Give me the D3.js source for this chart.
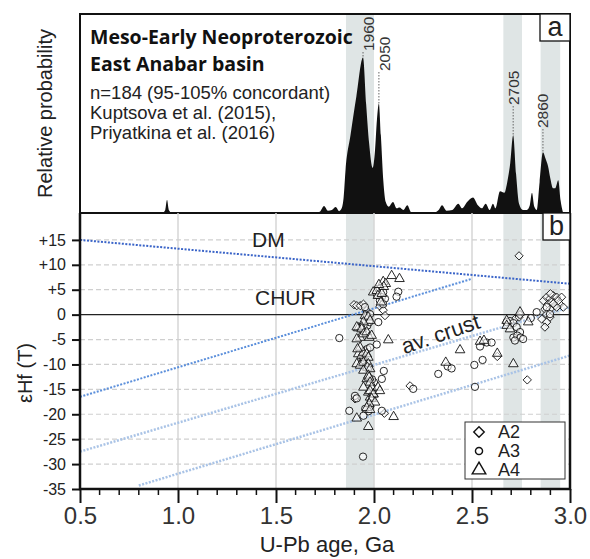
<!DOCTYPE html>
<html>
<head>
<meta charset="utf-8">
<script src="https://cdn.jsdelivr.net/npm/d3@7"></script>
<style>
  body { margin: 0; background: #fff; }
  svg { font-family: "Liberation Sans", Arial, sans-serif; }
</style>
</head>
<body>
<svg id="chart" width="590" height="559"></svg>
<script>
// relative probability curve, [age Ga, relative height]
const density = [
  [0.5, 0], [0.92, 0], [0.935, 0.02], [0.944, 0.085], [0.953, 0.02], [0.97, 0],
  [1.7, 0], [1.725, 0.01], [1.745, 0.045], [1.765, 0.015], [1.785, 0.02],
  [1.805, 0.038], [1.822, 0.012], [1.835, 0.03], [1.845, 0.1], [1.855, 0.28],
  [1.88, 0.5], [1.91, 0.75], [1.944, 1.0], [1.96, 0.7], [1.975, 0.45],
  [1.993, 0.29], [2.005, 0.4], [2.015, 0.6], [2.025, 0.705], [2.035, 0.5],
  [2.048, 0.2], [2.06, 0.07], [2.075, 0.04], [2.097, 0.07], [2.115, 0.03],
  [2.13, 0.035], [2.15, 0.02], [2.17, 0.05], [2.19, 0.005], [2.3, 0],
  [2.33, 0.02], [2.347, 0.05], [2.37, 0.015], [2.4, 0.02], [2.43, 0.06],
  [2.45, 0.03], [2.475, 0.07], [2.505, 0.1], [2.53, 0.05], [2.55, 0.03],
  [2.57, 0.06], [2.59, 0.02], [2.607, 0.06], [2.62, 0.03], [2.643, 0.14],
  [2.665, 0.13], [2.68, 0.2], [2.695, 0.32], [2.71, 0.5], [2.725, 0.25],
  [2.74, 0.06], [2.76, 0.02], [2.78, 0.02], [2.795, 0.05], [2.806, 0.13],
  [2.818, 0.04], [2.83, 0.02], [2.845, 0.2], [2.862, 0.39], [2.875, 0.35],
  [2.888, 0.3], [2.9, 0.22], [2.913, 0.16], [2.925, 0.16], [2.94, 0.21],
  [2.952, 0.08], [2.965, 0],
];

const peaks = [
  { age: 1.944, rel: 1.0, label: "1960" },
  { age: 2.025, rel: 0.705, label: "2050" },
  { age: 2.71, rel: 0.5, label: "2705" },
  { age: 2.862, rel: 0.39, label: "2860" },
];
const peakLabelTop = ["18", "38", "72", "95"];

const bands = [[1.857, 2.0], [2.66, 2.755], [2.85, 2.95]];

// εHf(T) data, [age Ga, εHf]
const a2 = [
  [1.898, 2.0], [1.912, 1.8], [1.93, 1.8], [1.946, 2.1], [1.963, 0.8],
  [2.03, 1.7], [2.047, 0.9], [2.056, -0.2], [1.903, -16.9], [2.053, -19.8],
  [2.184, -14.3], [2.629, -8.4], [2.782, -13.1], [2.74, 11.8], [2.719, -0.9],
  [2.74, -0.5], [2.745, 0], [2.733, -4.4], [2.864, 2.8], [2.881, 3.5],
  [2.898, 3.2], [2.915, 3.8], [2.932, 3.5], [2.957, 3.5], [2.889, 2.1],
  [2.906, 2.5], [2.923, 1.8], [2.949, 2.1], [2.966, 1.5], [2.872, 1.1],
  [2.898, 1.1], [2.932, 1.5], [2.881, 0.1], [2.856, -0.9], [2.881, -1.5],
  [2.898, -0.5], [2.872, -2.5], [2.94, 2.8], [2.915, 2.2], [2.9, 4.2],
];
const a3 = [
  [1.954, 1.5], [1.966, -0.2], [1.98, 0.1], [1.966, -2.2], [1.976, -1.5],
  [2.022, -1.5], [2.124, 4.6], [2.115, 3.6], [2.03, 5.2], [2.047, 4.5],
  [2.04, 3.5], [2.056, 3.2], [2.03, 2.8], [2.047, 2.1], [1.823, -4.7],
  [2.014, -6.0], [1.954, -7.2], [1.966, -6.9], [1.98, -6.6], [1.942, -9.1],
  [1.946, -8.6], [2.05, -11.3], [2.04, -12.9], [2.0, -13.6], [1.903, -16.3],
  [1.912, -16.8], [1.99, -16.6], [1.98, -18.5], [1.971, -19.4], [1.955, -18.9],
  [1.874, -19.3], [1.946, -20.3], [2.04, -19.3], [1.944, -28.5], [2.2, -14.9],
  [2.328, -11.9], [2.376, -10.4], [2.396, -10.8], [2.512, -10.1], [2.554, -9.1],
  [2.541, -6.4], [2.575, -5.6], [2.6, -5.6], [2.515, -14.5], [2.677, -1.5],
  [2.694, -1.3], [2.711, -1.7], [2.728, -2.5], [2.745, -3.5], [2.711, -4.6],
  [2.731, -4.2], [2.748, -4.6], [2.761, -4.9], [2.719, -5.2], [2.8, -0.7],
  [2.83, 0.5], [2.881, 1.5], [2.898, 0.1], [2.015, 4.0], [1.99, -13.0],
];
const a4 = [
  [2.09, 7.8], [2.13, 7.2], [2.047, 6.6], [2.06, 6.2], [1.996, 4.5],
  [2.014, 4.8], [2.02, 3.8], [2.04, 4.2], [2.05, 5.6], [1.954, -0.2],
  [1.97, -0.5], [1.98, -1.2], [1.946, -1.5], [1.92, -2.7], [1.937, -2.5],
  [1.912, -2.5], [1.937, -2.9], [1.929, -4.6], [1.912, -4.9], [1.946, -3.9],
  [1.963, -3.5], [1.976, -4.6], [1.988, -4.2], [1.92, -7.9], [1.937, -8.2],
  [1.946, -7.6], [1.963, -7.9], [1.971, -8.6], [1.929, -6.6], [1.916, -6.9],
  [1.912, -9.9], [1.929, -10.2], [1.946, -9.6], [1.971, -9.9], [1.966, -10.6],
  [1.98, -10.9], [1.946, -11.2], [1.963, -12.9], [1.971, -12.2], [1.975, -12.6],
  [1.98, -13.6], [1.988, -14.6], [1.971, -15.6], [1.98, -16.6], [1.997, -15.9],
  [1.946, -14.6], [1.98, -15.3], [1.997, -16.0], [1.988, -16.9], [2.005, -17.6],
  [1.976, -17.9], [1.963, -18.7], [1.98, -19.1], [2.02, -14.6], [2.03, -15.3],
  [1.912, -20.8], [2.1, -20.5], [1.971, -22.5], [2.073, -5.1], [2.366, -9.6],
  [2.439, -7.1], [2.541, -5.4], [2.561, -5.2], [2.629, -7.8], [2.711, -9.9],
  [2.677, -1.2], [2.677, -2.2], [2.694, -2.9], [2.745, 0.5], [2.787, -1.5],
  [2.035, 2.5], [2.025, 6.0],
];

// reference evolution lines, [[age, εHf], [age, εHf]]
const dmLine = [[0.5, 15], [3.0, 6.2]];
const crustLines = [
  [[0.5, -16.5], [2.5, 7.2]],
  [[0.5, -27.5], [3.0, 1.5]],
  [[0.8, -34.3], [3.0, -8.2]],
];

const yTicks = [15, 10, 5, 0, -5, -10, -15, -20, -25, -30, -35];
const xTicks = [0.5, 1.0, 1.5, 2.0, 2.5, 3.0];
const legendItems = ["A2", "A3", "A4"];

const svg = d3.select("svg#chart");

const left = 80, right = 570, topA = 14, mid = 213, bottom = 489;

const x = d3.scaleLinear().domain([0.5, 3.0]).range([left, right]);
const yA = d3.scaleLinear().domain([0, 1.28]).range([mid, topA]);
const yB = d3.scaleLinear().domain([-35, 20.4]).range([bottom, mid]);

// grey bands in both panels
svg.append("g")
  .selectAll("rect")
  .data(bands)
  .join("rect")
  .attr("x", ([a]) => x(a))
  .attr("width", ([a, b]) => x(b) - x(a))
  .attr("y", topA)
  .attr("height", bottom - topA)
  .attr("fill", "#dfe5e5");

// ---- panel a ----
svg.append("path")
  .datum(density)
  .attr("fill", "#111")
  .attr("d", d3.area()
    .x(([a]) => x(a))
    .y0(mid)
    .y1(([, p]) => yA(p))
    .curve(d3.curveMonotoneX));

const peakG = svg.append("g").selectAll("g").data(peaks).join("g");
peakG.append("line")
  .attr("x1", (d) => x(d.age)).attr("x2", (d) => x(d.age))
  .attr("y1", (d, i) => +peakLabelTop[i] + 34)
  .attr("y2", (d) => yA(d.rel))
  .attr("stroke", "#666")
  .attr("stroke-width", 1)
  .attr("stroke-dasharray", "1.5,1.5");
peakG.append("text")
  .attr("transform", (d, i) =>
    `translate(${x(d.age) + (i < 2 ? 6 : 0)},${+peakLabelTop[i] + 33}) rotate(-90)`)
  .attr("dy", "0.35em")
  .attr("font-size", 15.5)
  .attr("fill", "#333")
  .text((d) => d.label);

svg.append("rect")
  .attr("x", left).attr("y", topA)
  .attr("width", right - left).attr("height", mid - topA)
  .attr("fill", "none").attr("stroke", "#111").attr("stroke-width", 2);

const titleG = svg.append("g").attr("fill", "#111");
titleG.append("text").attr("x", 90).attr("y", 44)
  .attr("font-family", "'Open Sans', sans-serif").attr("font-weight", 700)
  .attr("font-size", 19.5).text("Meso-Early Neoproterozoic");
titleG.append("text").attr("x", 90).attr("y", 71)
  .attr("font-family", "'Open Sans', sans-serif").attr("font-weight", 700)
  .attr("font-size", 19.5).text("East Anabar basin");
["n=184 (95-105% concordant)", "Kuptsova et al. (2015),", "Priyatkina et al. (2016)"]
  .forEach((t, i) => {
    titleG.append("text").attr("x", 90).attr("y", 99 + i * 20)
      .attr("font-size", 18.5).attr("fill", "#222").text(t);
  });

svg.append("text")
  .attr("transform", `translate(52,${(topA + mid) / 2}) rotate(-90)`)
  .attr("text-anchor", "middle")
  .attr("font-size", 20)
  .attr("fill", "#222")
  .text("Relative probability");

// ---- panel b ----
const grid = svg.append("g");
grid.selectAll("line.v")
  .data([1.0, 1.5, 2.0, 2.5])
  .join("line")
  .attr("x1", (d) => x(d)).attr("x2", (d) => x(d))
  .attr("y1", mid).attr("y2", bottom)
  .attr("stroke", "#d6d6d6").attr("stroke-width", 1.5);
grid.selectAll("line.h")
  .data(yTicks.filter((d) => d !== 0 && d !== -35))
  .join("line")
  .attr("x1", left).attr("x2", right)
  .attr("y1", (d) => yB(d)).attr("y2", (d) => yB(d))
  .attr("stroke", "#cfcfcf").attr("stroke-width", 1.2)
  .attr("stroke-dasharray", "5,3");

svg.append("line")
  .attr("x1", left).attr("x2", right)
  .attr("y1", yB(0)).attr("y2", yB(0))
  .attr("stroke", "#222").attr("stroke-width", 1.3);

const line = d3.line().x(([a]) => x(a)).y(([, e]) => yB(e));
svg.append("path")
  .datum(dmLine)
  .attr("d", line)
  .attr("fill", "none")
  .attr("stroke", "#3a64c8")
  .attr("stroke-width", 2)
  .attr("stroke-dasharray", "2,1.5");
svg.append("g")
  .selectAll("path")
  .data(crustLines)
  .join("path")
  .attr("d", line)
  .attr("fill", "none")
  .attr("stroke", (d, i) => (i === 0 ? "#5b8fdb" : "#a9c3e6"))
  .attr("stroke-width", (d, i) => (i === 0 ? 2 : 2.5))
  .attr("stroke-dasharray", "2,1.5");

const labelG = svg.append("g").attr("fill", "#222").attr("font-size", 21);
labelG.append("text").attr("x", 252).attr("y", 247).text("DM");
labelG.append("text").attr("x", 255).attr("y", 305).text("CHUR");
labelG.append("text")
  .attr("transform", "translate(443,341) rotate(-19)")
  .attr("text-anchor", "middle")
  .attr("font-size", 22)
  .text("av. crust");

// symbols
const symbols = [d3.symbolDiamond2, d3.symbolCircle, d3.symbolTriangle];
const sizes = [44, 42, 40];
[a2, a3, a4].forEach((series, i) => {
  svg.append("g")
    .selectAll("path")
    .data(series)
    .join("path")
    .attr("transform", ([a, e]) => `translate(${x(a)},${yB(e)})`)
    .attr("d", d3.symbol(symbols[i], sizes[i]))
    .attr("fill", "#fff")
    .attr("fill-opacity", 0.6)
    .attr("stroke", "#111")
    .attr("stroke-width", 0.9);
});

// axes
const yAxis = d3.axisLeft(yB)
  .tickValues(yTicks)
  .tickSize(8)
  .tickPadding(6)
  .tickFormat((d) => (d > 0 ? "+" + d : d));
svg.append("g")
  .attr("transform", `translate(${left},0)`)
  .call(yAxis)
  .call((g) => g.select(".domain").remove())
  .call((g) => g.selectAll("line").attr("stroke", "#111").attr("stroke-width", 2))
  .call((g) => g.selectAll("text")
    .attr("font-size", 16).attr("fill", "#222")
    .attr("font-family", "'Liberation Sans', Arial, sans-serif"));

const minor = d3.range(5, 31).map((d) => d / 10).filter((d) => !xTicks.includes(d));
svg.append("g")
  .selectAll("line")
  .data(minor)
  .join("line")
  .attr("x1", (d) => x(d)).attr("x2", (d) => x(d))
  .attr("y1", bottom).attr("y2", bottom + 6)
  .attr("stroke", "#111").attr("stroke-width", 1.5);

const xAxis = d3.axisBottom(x)
  .tickValues(xTicks)
  .tickSize(14)
  .tickPadding(4)
  .tickFormat(d3.format(".1f"));
svg.append("g")
  .attr("transform", `translate(0,${bottom})`)
  .call(xAxis)
  .call((g) => g.select(".domain").remove())
  .call((g) => g.selectAll("line").attr("stroke", "#111").attr("stroke-width", 2))
  .call((g) => g.selectAll("text")
    .attr("font-size", 24).attr("fill", "#333")
    .attr("font-family", "'Liberation Sans', Arial, sans-serif"));

// panel b frame (left, bottom, right)
svg.append("path")
  .attr("d", `M${left},${mid}V${bottom}H${right}V${mid}`)
  .attr("fill", "none").attr("stroke", "#111").attr("stroke-width", 2.5);

svg.append("text")
  .attr("x", 327).attr("y", 552)
  .attr("text-anchor", "middle")
  .attr("font-size", 22).attr("fill", "#222")
  .text("U-Pb age, Ga");
svg.append("text")
  .attr("transform", `translate(32,373) rotate(-90)`)
  .attr("text-anchor", "middle")
  .attr("font-size", 20).attr("fill", "#222")
  .text("εHf (T)");

// panel letters
[["a", topA], ["b", mid]].forEach(([t, y0], i) => {
  const w = i === 0 ? 30 : 27;
  svg.append("rect")
    .attr("x", right - w).attr("y", y0)
    .attr("width", w).attr("height", 27)
    .attr("fill", "#fff").attr("stroke", "#111").attr("stroke-width", 1.3);
  svg.append("text")
    .attr("x", right - w / 2).attr("y", y0 + 22)
    .attr("text-anchor", "middle")
    .attr("font-size", 27).attr("fill", "#222")
    .text(t);
});

// legend
const legend = svg.append("g").attr("transform", "translate(465,422)");
legend.append("rect")
  .attr("width", 100).attr("height", 57)
  .attr("fill", "#fff").attr("stroke", "#333").attr("stroke-width", 1);
legend.selectAll("g")
  .data(legendItems)
  .join("g")
  .attr("transform", (d, i) => `translate(14,${10 + i * 19})`)
  .call((g) => g.append("path")
    .attr("d", (d, i) => d3.symbol(symbols[i], [70, 40, 80][i])())
    .attr("fill", "#fff").attr("stroke", "#111").attr("stroke-width", 1.4))
  .call((g) => g.append("text")
    .attr("x", 19).attr("dy", "0.36em")
    .attr("font-size", 18).attr("fill", "#222")
    .text((d) => d));
</script>
</body>
</html>
